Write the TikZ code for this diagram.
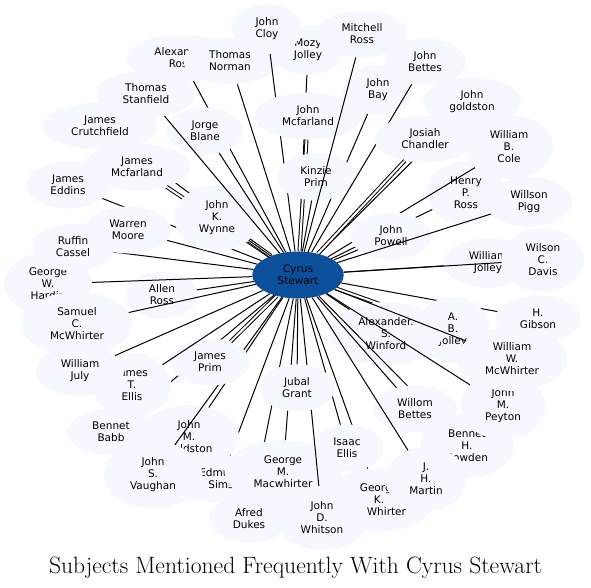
\documentclass[tikz,border=0pt]{standalone}
\usepackage{fontspec}
\newfontfamily\dvs{DejaVu Sans}
\usetikzlibrary{shapes.geometric}
\definecolor{nfill}{RGB}{245,249,255}
\definecolor{cblue}{RGB}{12,79,155}
\tikzset{
  sub/.style={ellipse, fill=nfill, align=center, font=\dvs\fontsize{10.5}{12}\selectfont,
    inner xsep=12pt, inner ysep=6.5pt, minimum width=70pt, minimum height=47pt},
  ctr/.style={sub, fill=cblue},
  edge/.style={draw=black, line width=1pt},
  dbl/.style={edge, double=white, double distance=2pt},
  ttl/.style={font=\fontsize{23.6}{26}\selectfont, inner sep=0pt, anchor=base}
}
\newcommand\sn[5]{%
  \node[sub] (#1) at (#2,#3) {#4};
  \ifcase#5\relax
  \or \draw[edge] (cs) -- (#1);
  \or \draw[dbl] (cs) -- (#1);
  \or \draw[dbl, double distance=2.4pt] (cs) -- (#1); \draw[edge] (cs) -- (#1);
  \fi}
\begin{document}
\begin{tikzpicture}[x=1pt,y=-1pt]
\useasboundingbox (0,0) rectangle (591,588);
\fill[white] (0,0) rectangle (591,588);
\node[ctr] (cs) at (298,275) {Cyrus\\Stewart};
\sn{jcr}{100}{126}{James\\Crutchfield}{1}
\sn{jed}{68}{185}{James\\Eddins}{1}
\sn{ar}{181}{58}{Alexander\\Ross}{1}
\sn{tn}{230}{61}{Thomas\\Norman}{1}
\sn{mj}{308}{50}{Mozy\\Jolley}{1}
\sn{jc}{267}{29}{John\\Cloy}{1}
\sn{jb}{378}{90}{John\\Bay}{1}
\sn{jmf}{308}{116}{John\\Mcfarland}{2}
\sn{kp}{316}{177}{Kinzie\\Prim}{1}
\sn{mr}{362}{34}{Mitchell\\Ross}{1}
\sn{jbe}{425}{62}{John\\Bettes}{1}
\sn{jg}{472}{102}{John\\goldston}{1}
\sn{jch}{425}{139}{Josiah\\Chandler}{2}
\sn{hpr}{466}{193}{Henry\\P.\\Ross}{1}
\sn{wbc}{509}{147}{William\\B.\\Cole}{1}
\sn{jp}{391}{236}{John\\Powell}{1}
\sn{wp}{529}{202}{Willson\\Pigg}{1}
\sn{wj}{488}{263}{William\\Jolley}{1}
\sn{wcd}{543}{260}{Wilson\\C.\\Davis}{1}
\sn{hg}{538}{319}{H.\\Gibson}{1}
\sn{abj}{453}{330}{A.\\B.\\Jolley}{2}
\sn{asw}{386}{334}{Alexander.\\S.\\Winford}{1}
\sn{bhb}{467}{446}{Bennet\\H.\\Bowden}{1}
\sn{jmp}{503}{406}{John\\M.\\Peyton}{1}
\sn{wwm}{512}{359}{William\\W.\\McWhirter}{1}
\sn{wb}{415}{409}{Willom\\Bettes}{1}
\sn{gkm}{379}{500}{George\\K.\\McWhirter}{1}
\sn{jhm}{426}{479}{J.\\H.\\Martin}{1}
\sn{ie}{347}{448}{Isaac\\Ellis}{1}
\sn{es}{221}{479}{Edmund\\Sims}{1}
\sn{ad}{249}{519}{Afred\\Dukes}{1}
\sn{gmm}{283}{472}{George\\M.\\Macwhirter}{1}
\sn{jdw}{322}{518}{John\\D.\\Whitson}{1}
\sn{jug}{297}{388}{Jubal\\Grant}{1}
\sn{jmg}{189}{437}{John\\M.\\Goldston}{1}
\sn{jsv}{153}{475}{John\\S.\\Vaughan}{1}
\sn{bb}{111}{432}{Bennet\\Babb}{1}
\sn{jpr}{210}{362}{James\\Prim}{2}
\sn{jte}{132}{385}{James\\T.\\Ellis}{1}
\sn{wju}{80}{371}{William\\July}{1}
\sn{alr}{162}{295}{Allen\\Ross}{1}
\sn{gwh}{48}{284}{George\\W.\\Hardin}{1}
\sn{scm}{77}{324}{Samuel\\C.\\McWhirter}{1}
\sn{rc}{73}{247}{Ruffin\\Cassel}{1}
\sn{wm}{128}{230}{Warren\\Moore}{1}
\sn{jmc}{137}{167}{James\\Mcfarland}{2}
\sn{jkw}{217}{218}{John\\K.\\Wynne}{3}
\sn{jbl}{205}{131}{Jorge\\Blane}{1}
\sn{ts}{146}{94}{Thomas\\Stanfield}{1}
\node[ttl] (title) at (295.5,573) {Subjects Mentioned Frequently With Cyrus Stewart};
\end{tikzpicture}
\end{document}
